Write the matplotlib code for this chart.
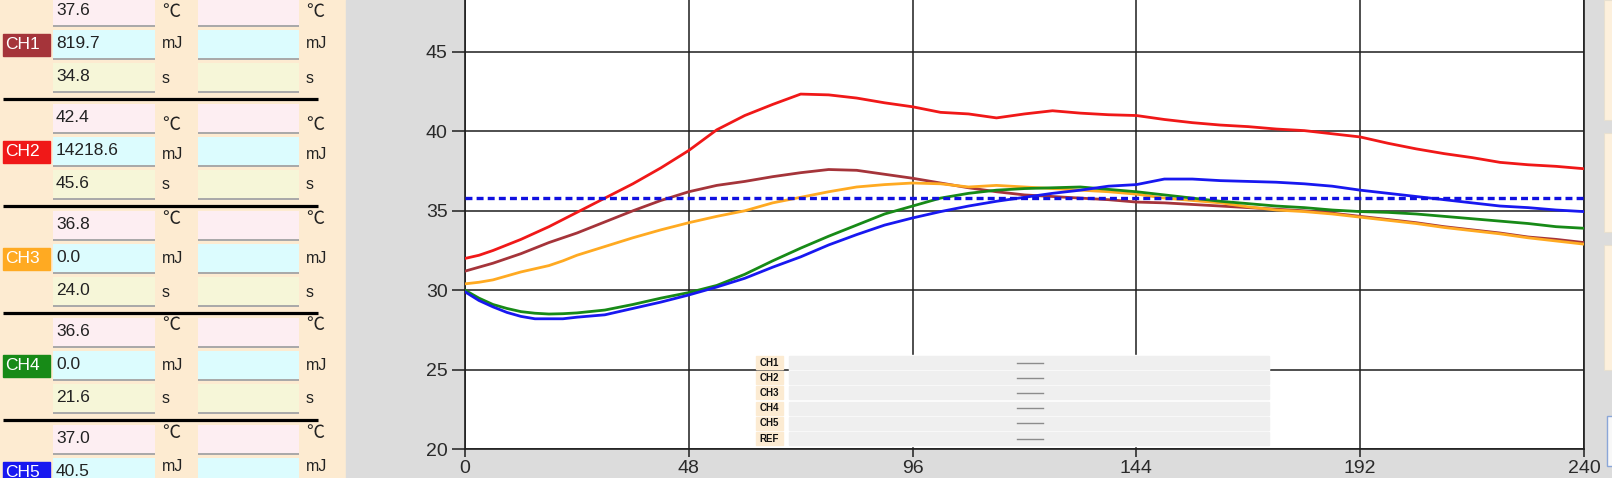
import matplotlib
matplotlib.use("Agg")
import matplotlib.pyplot as plt
from matplotlib.patches import Rectangle

plt.rcParams['font.family'] = ['Liberation Sans', 'DejaVu Sans']
plt.rcParams['lines.scale_dashes'] = False

# ---------------- data ----------------
time_s = [0, 3, 6, 9, 12, 15, 18, 21, 24, 30, 36, 42, 48, 54, 60, 66, 72, 78, 84, 90,
          96, 102, 108, 114, 120, 126, 132, 138, 144, 150, 156, 162, 168, 174, 180,
          186, 192, 198, 204, 210, 216, 222, 228, 234, 240]

ch1 = [31.2, 31.45, 31.7, 32.0, 32.3, 32.65, 33.0, 33.3, 33.6, 34.3, 35.0, 35.65, 36.2,
       36.6, 36.85, 37.15, 37.4, 37.6, 37.55, 37.3, 37.05, 36.75, 36.45, 36.2, 36.0,
       35.9, 35.8, 35.7, 35.55, 35.5, 35.4, 35.3, 35.2, 35.1, 35.0, 34.85, 34.65, 34.45,
       34.25, 34.0, 33.8, 33.6, 33.35, 33.2, 33.0]
ch2 = [32.0, 32.2, 32.5, 32.85, 33.2, 33.6, 34.0, 34.45, 34.9, 35.8, 36.7, 37.7, 38.8,
       40.1, 41.0, 41.7, 42.35, 42.3, 42.1, 41.8, 41.55, 41.2, 41.1, 40.85, 41.1, 41.3,
       41.15, 41.05, 41.0, 40.75, 40.55, 40.4, 40.3, 40.15, 40.05, 39.85, 39.65, 39.25,
       38.9, 38.6, 38.35, 38.05, 37.9, 37.8, 37.65]
ch3 = [30.4, 30.5, 30.65, 30.9, 31.15, 31.35, 31.55, 31.85, 32.2, 32.75, 33.3, 33.8,
       34.25, 34.65, 35.0, 35.5, 35.85, 36.2, 36.5, 36.65, 36.75, 36.7, 36.5, 36.6, 36.5,
       36.4, 36.3, 36.2, 36.05, 35.8, 35.65, 35.5, 35.25, 35.05, 34.95, 34.8, 34.6, 34.4,
       34.2, 33.95, 33.75, 33.55, 33.3, 33.1, 32.9]
ch4 = [30.0, 29.5, 29.1, 28.85, 28.65, 28.55, 28.5, 28.52, 28.57, 28.75, 29.1, 29.5,
       29.85, 30.3, 31.0, 31.85, 32.65, 33.4, 34.1, 34.8, 35.3, 35.8, 36.1, 36.3, 36.4,
       36.45, 36.5, 36.35, 36.2, 36.0, 35.8, 35.6, 35.45, 35.3, 35.2, 35.05, 34.95, 34.9,
       34.8, 34.65, 34.5, 34.35, 34.2, 34.0, 33.9]
ch5 = [29.9, 29.35, 28.95, 28.6, 28.35, 28.2, 28.2, 28.2, 28.3, 28.45, 28.85, 29.25,
       29.7, 30.2, 30.75, 31.45, 32.1, 32.85, 33.5, 34.1, 34.55, 34.95, 35.3, 35.6, 35.85,
       36.1, 36.3, 36.55, 36.65, 37.0, 37.0, 36.9, 36.85, 36.8, 36.7, 36.55, 36.3, 36.1,
       35.9, 35.7, 35.5, 35.3, 35.2, 35.05, 34.95]
ref_level = 35.8

series = [ch1, ch2, ch3, ch4, ch5]
channels = ['CH1', 'CH2', 'CH3', 'CH4', 'CH5']
legend_labels = ['CH1', 'CH2', 'CH3', 'CH4', 'CH5', 'REF']
colors = ['#a5343a', '#f01818', '#ffaa22', '#178a17', '#1818f0']

x_ticks = [0, 48, 96, 144, 192, 240]
y_ticks = [20, 25, 30, 35, 40, 45]

temp_vals = ['37.6', '42.4', '36.8', '36.6', '37.0']
energy_vals = ['819.7', '14218.6', '0.0', '0.0', '40.5']
time_vals = ['34.8', '45.6', '24.0', '21.6', None]
units = ['℃', 'mJ', 's']

# ---------------- figure ----------------
W, H = 1612, 478
fig = plt.figure(figsize=(W / 100, H / 100), dpi=100)
fig.patch.set_facecolor('#fdebd1')

# background overlay in pixel coords
bg = fig.add_axes([0, 0, 1, 1])
bg.set_xlim(0, W)
bg.set_ylim(H, 0)
bg.axis('off')
bg.add_patch(Rectangle((346, 0), W - 346, H, color='#dcdcdc', zorder=0))
# right side panels (partially visible)
for (y0, y1) in [(0, 120), (133, 232), (245, 370)]:
    bg.add_patch(Rectangle((1604, y0), 10, y1 - y0, facecolor='#fdf0dc',
                           edgecolor='#e8e0d0', lw=0.8, zorder=1))
bg.add_patch(Rectangle((1607, 416), 8, 50, facecolor='#f8f8f8',
                       edgecolor='#8aa6d8', lw=1.0, zorder=1))

box_cols = ['#fdeef2', '#dcfcfe', '#f6f6d8']
unit_dy = [[0, 6, -7, -7, -6], [-1, 3, 0, 0, -6], [1, 0, 1, 0, 0]]
unit_fs = [13, 11.5, 11.5]
for g in range(5):
    G = -8 + 107 * g
    vals = [temp_vals[g], energy_vals[g], time_vals[g]]
    for r in range(3):
        top = G + 5 + 33 * r
        for (x0, x1) in [(53, 155), (198, 299)]:
            bg.add_patch(Rectangle((x0, top), x1 - x0, 29, facecolor=box_cols[r],
                                   edgecolor='none', zorder=1))
            bg.plot([x0, x1], [top + 29, top + 29], color='#a8a8a8', lw=1.4,
                    solid_capstyle='butt', zorder=2)
        cy = top + 14.5
        if vals[r] is not None:
            bg.text(56, cy - 1, vals[r], fontsize=12.5, color='#222222',
                    ha='left', va='center', zorder=3)
        fam = ['Noto Sans CJK JP', 'DejaVu Sans'] if r == 0 else ['Liberation Sans', 'DejaVu Sans']
        for ux in (162, 306):
            bg.text(ux, cy + unit_dy[r][g], units[r], fontsize=unit_fs[r],
                    color='#222222', ha='left', va='center', family=fam, zorder=3)
    # channel label
    cy = G + 38 + 14.5
    bg.add_patch(Rectangle((3, cy - 11), 47, 22, color=colors[g], zorder=2))
    bg.text(5, cy, channels[g], fontsize=12.5, color='white', ha='left',
            va='center', zorder=3)
    # separator
    if g > 0:
        bg.plot([3, 318], [G, G], color='black', lw=2.3, solid_capstyle='butt', zorder=2)

# ---------------- chart ----------------
ax = fig.add_axes([465 / W, (H - 449) / H, 1119 / W, 449 / H])
ax.set_facecolor('white')
ax.set_xlim(0, 240)
ax.set_ylim(20, 20 + 449 / 15.88)
ax.set_xticks(x_ticks)
ax.set_yticks(y_ticks)
ax.grid(True, color='#1e1e1e', lw=1.1)
ax.set_axisbelow(True)
for s in ['left', 'bottom', 'right']:
    ax.spines[s].set_color('#1e1e1e')
    ax.spines[s].set_linewidth(1.2)
ax.spines['top'].set_visible(False)
ax.tick_params(axis='y', direction='out', length=9.5, width=1.1, pad=3,
               labelsize=14, colors='#1e1e1e', labelcolor='#2a2a2a')
ax.tick_params(axis='x', direction='out', length=6, width=1.1, pad=2,
               labelsize=14, colors='#1e1e1e', labelcolor='#2a2a2a')

for vals, c in zip(series, colors):
    ax.plot(time_s, vals, color=c, lw=2.0, zorder=3)
ax.axhline(ref_level, color='#1010e0', lw=2.4, dashes=(5, 3), zorder=4)

# ---------------- legend overlay ----------------
lg = fig.add_axes([0, 0, 1, 1])
lg.set_xlim(0, W)
lg.set_ylim(H, 0)
lg.axis('off')
lg.patch.set_alpha(0)
lg.add_patch(Rectangle((789, 355), 1269 - 789, 91, color='white', zorder=1))
for i, lab in enumerate(legend_labels):
    cy = 362.5 + 15.2 * i
    lg.add_patch(Rectangle((789, cy - 6.6), 1269 - 789, 13.2, color='#efefef', zorder=2))
    lg.add_patch(Rectangle((756, cy - 6.6), 27, 13.2, color='#fcebd2', zorder=2))
    lg.text(769.5, cy, lab, fontsize=7, fontweight='bold', color='#111111',
            ha='center', va='center', zorder=3)
    lg.plot([1017, 1043], [cy, cy], color='#8c8c8c', lw=1.0, zorder=3)

fig.savefig('out.png', dpi=100, facecolor=fig.get_facecolor())
